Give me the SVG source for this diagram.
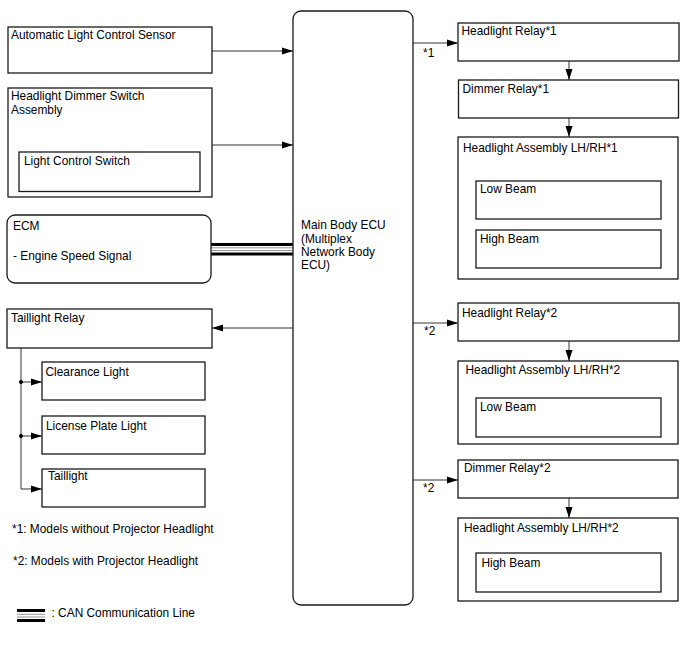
<svg xmlns="http://www.w3.org/2000/svg" width="688" height="658" viewBox="0 0 688 658">
<style>
text{font-family:"Liberation Sans",Arial,sans-serif;font-size:11.9px;fill:#000}
.box{fill:#fff;stroke:#1a1a1a;stroke-width:1.3}
.ln{fill:none;stroke:#333;stroke-width:1}
</style>
<defs>
<marker id="ah" markerUnits="userSpaceOnUse" markerWidth="12" markerHeight="8" refX="11" refY="4" orient="auto">
<path d="M0,0.5 L11,4 L0,7.5 z" fill="#000"/>
</marker>
</defs>
<rect width="688" height="658" fill="#fff"/>

<g id="connectors">
<line class="ln" x1="212" y1="51" x2="293" y2="51" marker-end="url(#ah)"/>
<line class="ln" x1="212" y1="145" x2="293" y2="145" marker-end="url(#ah)"/>
<g id="can">
<line x1="211" y1="244.5" x2="293" y2="244.5" stroke="#000" stroke-width="3"/>
<line x1="211" y1="247.8" x2="293" y2="247.8" stroke="#777" stroke-width="0.8"/>
<line x1="211" y1="250.5" x2="293" y2="250.5" stroke="#777" stroke-width="0.8"/>
<line x1="211" y1="254" x2="293" y2="254" stroke="#000" stroke-width="3"/>
</g>
<line class="ln" x1="293" y1="328" x2="212" y2="328" marker-end="url(#ah)"/>
<polyline class="ln" points="21,348 21,489 42,489" marker-end="url(#ah)"/>
<line class="ln" x1="21" y1="382" x2="42" y2="382" marker-end="url(#ah)"/>
<line class="ln" x1="21" y1="436" x2="42" y2="436" marker-end="url(#ah)"/>
<circle cx="21" cy="382" r="2" fill="#000"/>
<circle cx="21" cy="436" r="2" fill="#000"/>
<line class="ln" x1="413" y1="43" x2="458" y2="43" marker-end="url(#ah)"/>
<text x="423" y="57">*1</text>
<line class="ln" x1="569" y1="61" x2="569" y2="80" marker-end="url(#ah)"/>
<line class="ln" x1="569" y1="118" x2="569" y2="137" marker-end="url(#ah)"/>
<line class="ln" x1="413" y1="323" x2="458" y2="323" marker-end="url(#ah)"/>
<text x="424" y="335">*2</text>
<line class="ln" x1="569" y1="341" x2="569" y2="361" marker-end="url(#ah)"/>
<line class="ln" x1="413" y1="480" x2="458" y2="480" marker-end="url(#ah)"/>
<text x="423" y="492">*2</text>
<line class="ln" x1="569" y1="498" x2="569" y2="518" marker-end="url(#ah)"/>
</g>

<g id="alc-sensor">
<rect class="box" x="8" y="27" width="204" height="46"/>
<text x="11" y="38.5">Automatic Light Control Sensor</text>
</g>
<g id="dimmer-switch">
<rect class="box" x="8" y="88" width="204" height="109"/>
<text x="11" y="100">Headlight Dimmer Switch</text>
<text x="11" y="113.5">Assembly</text>
</g>
<g id="light-control-switch">
<rect class="box" x="19" y="152" width="181" height="39.5"/>
<text x="24" y="165">Light Control Switch</text>
</g>
<g id="ecm">
<rect class="box" x="7" y="215" width="204" height="68" rx="8"/>
<text x="13" y="230">ECM</text>
<text x="13" y="259.5">- Engine Speed Signal</text>
</g>
<g id="main-body-ecu">
<rect class="box" x="293" y="11" width="120" height="594" rx="8"/>
<text x="301" y="229">Main Body ECU</text>
<text x="301" y="242.5">(Multiplex</text>
<text x="301" y="256">Network Body</text>
<text x="301" y="269">ECU)</text>
</g>
<g id="taillight-relay">
<rect class="box" x="7" y="309" width="205" height="39"/>
<text x="11" y="321.5">Taillight Relay</text>
</g>
<g id="clearance-light">
<rect class="box" x="42" y="362" width="163" height="38"/>
<text x="45.5" y="376">Clearance Light</text>
</g>
<g id="license-plate-light">
<rect class="box" x="42" y="416" width="163" height="38"/>
<text x="46" y="430">License Plate Light</text>
</g>
<g id="taillight">
<rect class="box" x="42" y="469" width="163" height="38"/>
<text x="48" y="480">Taillight</text>
</g>

<g id="headlight-relay-1">
<rect class="box" x="458" y="23" width="221" height="38"/>
<text x="461.5" y="35">Headlight Relay*1</text>
</g>
<g id="dimmer-relay-1">
<rect class="box" x="458.5" y="80" width="220" height="38"/>
<text x="462.5" y="93">Dimmer Relay*1</text>
</g>
<g id="headlight-assembly-1">
<rect class="box" x="458" y="137" width="220" height="142"/>
<text x="463" y="151.5">Headlight Assembly LH/RH*1</text>
<g id="low-beam-1">
<rect class="box" x="476" y="181" width="185" height="38"/>
<text x="480" y="193">Low Beam</text>
</g>
<g id="high-beam-1">
<rect class="box" x="476" y="230" width="185" height="38"/>
<text x="480" y="243">High Beam</text>
</g>
</g>

<g id="headlight-relay-2">
<rect class="box" x="458" y="303" width="221" height="38"/>
<text x="462" y="316.5">Headlight Relay*2</text>
</g>
<g id="headlight-assembly-2a">
<rect class="box" x="458" y="361" width="220" height="83"/>
<text x="465.5" y="374">Headlight Assembly LH/RH*2</text>
<g id="low-beam-2">
<rect class="box" x="476" y="398" width="185" height="39"/>
<text x="480" y="411">Low Beam</text>
</g>
</g>
<g id="dimmer-relay-2">
<rect class="box" x="458" y="460" width="220" height="38"/>
<text x="464" y="471.5">Dimmer Relay*2</text>
</g>
<g id="headlight-assembly-2b">
<rect class="box" x="458" y="518" width="220" height="83"/>
<text x="464" y="532">Headlight Assembly LH/RH*2</text>
<g id="high-beam-2">
<rect class="box" x="476" y="553" width="185" height="39"/>
<text x="481.5" y="566.5">High Beam</text>
</g>
</g>

<g id="legend">
<text x="12" y="532.5">*1: Models without Projector Headlight</text>
<text x="13" y="565">*2: Models with Projector Headlight</text>
<line x1="17" y1="610.5" x2="45" y2="610.5" stroke="#000" stroke-width="3"/>
<line x1="17" y1="614.3" x2="45" y2="614.3" stroke="#777" stroke-width="0.8"/>
<line x1="17" y1="617" x2="45" y2="617" stroke="#777" stroke-width="0.8"/>
<line x1="17" y1="620.5" x2="45" y2="620.5" stroke="#000" stroke-width="3"/>
<text x="51.5" y="616.5">: CAN Communication Line</text>
</g>
</svg>
